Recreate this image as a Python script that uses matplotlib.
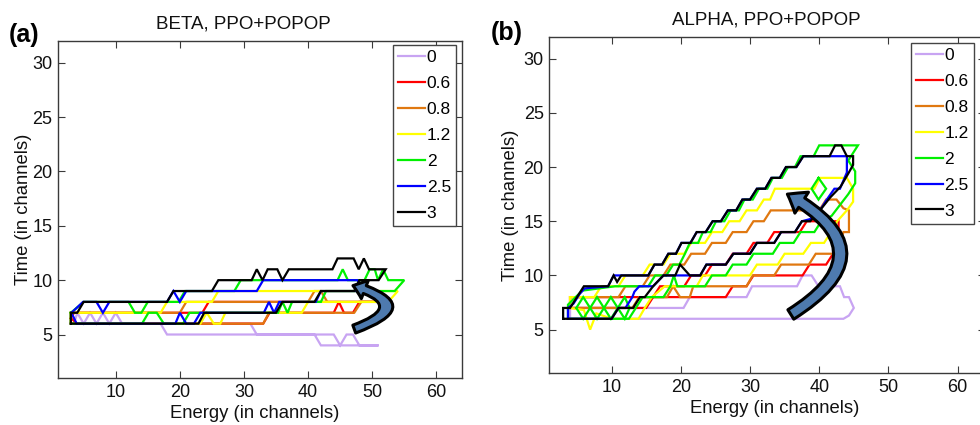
import matplotlib
matplotlib.use("Agg")
import matplotlib.pyplot as plt
from matplotlib.patches import FancyArrowPatch
from matplotlib.lines import Line2D

plt.rcParams['font.family'] = ['Liberation Sans', 'DejaVu Sans']

# ---------------- data ----------------
LEVELS = ['0', '0.6', '0.8', '1.2', '2', '2.5', '3']
COLORS = ['#C8A4F2', '#FF0000', '#E07810', '#FFFF00', '#00F000', '#0000FF', '#000000']
XTICKS = [10, 20, 30, 40, 50, 60]
YTICKS = [5, 10, 15, 20, 25, 30]
XLIM = (1, 64)
YLIM = (1, 32)
TITLES = ['BETA, PPO+POPOP', 'ALPHA, PPO+POPOP']
PANEL_TAGS = ['(a)', '(b)']
XLABEL = 'Energy (in channels)'
YLABEL = 'Time (in channels)'

# BETA contours (closed polylines, x = energy channel, y = time channel)
BETA_C0 = [(3.5, 6), (4, 7), (5, 6), (6, 7), (7, 6), (8, 7), (9, 6), (10, 7), (11, 6), (31, 6), (32, 5),
           (44, 5), (45, 4), (46, 5), (47, 5), (48, 4), (51, 4), (42, 4), (41, 5), (18, 5), (17, 6), (3.5, 6)]
BETA_C1 = [(3, 6.5), (3.5, 7), (23.5, 7), (24.5, 8), (52, 8), (48, 8), (47, 7), (45.6, 7), (44.8, 8),
           (44, 7), (34, 7), (33, 6), (4, 6), (3, 6.5)]
BETA_C2 = [(3, 7), (20, 7), (21, 8), (40, 8), (41, 9), (42, 9), (43, 8), (53, 8), (48.3, 8), (47.2, 7),
           (33.9, 7), (33, 6), (3, 6), (3, 7)]
BETA_C3 = [(3, 7), (17, 7), (18, 8), (25, 8), (26, 9), (54, 9), (52.5, 8), (40, 8), (39, 7), (27.1, 7),
           (26.3, 6), (25.3, 6), (24.2, 7), (23.2, 6), (3, 6), (3, 7)]
BETA_C4 = [(3, 7), (5, 8), (12, 8), (13, 7), (14, 7), (15, 8), (19.8, 8), (20.8, 9), (28.5, 9), (29.5, 10),
           (44.6, 10), (45.4, 11), (46.2, 10), (48.8, 10), (49.6, 11), (50.4, 11), (50.9, 10), (51.7, 11),
           (52.5, 10), (55, 10), (53.5, 9), (42.8, 9), (42, 8), (37.5, 8), (36.8, 7), (36, 8), (35.3, 7),
           (21.5, 7), (20.5, 6), (17.5, 6), (16.4, 7), (15.1, 7), (14.1, 6), (3, 6), (3, 7)]
BETA_C5 = [(3.1, 7), (4.9, 8), (7, 8), (8, 7), (9, 8), (18, 8), (19, 9), (20, 8), (21, 9), (32, 9), (33, 10),
           (47.7, 10), (48.7, 9), (42.8, 9), (42, 9), (41.2, 8), (35.5, 8), (34.7, 7), (33.9, 8), (33.1, 7),
           (23.2, 7), (22.2, 6), (21, 6), (20, 7), (19.3, 6), (3.9, 6), (3.1, 7)]
BETA_C6 = [(3, 6), (3, 7), (4, 7), (5, 8), (18, 8), (19, 9), (25, 9), (26, 10), (31.2, 10), (32, 11),
           (32.9, 10), (33.7, 11), (35.2, 11), (36, 10), (37, 11), (43.8, 11), (44.6, 12), (47.1, 12),
           (47.9, 11), (48.7, 12), (49.5, 11), (52.1, 11), (51, 10), (48, 10), (47.2, 9), (42, 9), (41, 8),
           (36, 8), (35, 7), (23.8, 7), (22.9, 6), (3, 6)]

# ALPHA contours
ALPHA_C0 = [(4, 6), (4, 7), (20.4, 7), (21.3, 8), (29.5, 8), (30.3, 9), (36.8, 9), (37.6, 10), (38.9, 10),
            (39.9, 9), (43, 9), (43.6, 8), (44.3, 8), (45, 7), (44.3, 6.3), (43.5, 6), (4, 6)]
ALPHA_C1 = [(4, 7), (15, 7), (16, 8), (26.5, 8), (27.5, 9), (29.5, 9), (30.5, 10), (37.6, 10), (38.6, 11),
            (41, 11), (42, 12), (42.8, 12.5), (42.8, 15), (38.2, 15), (37.2, 14), (33.5, 14), (32.5, 13),
            (30.5, 13), (29.5, 12), (27.5, 12), (26.5, 11), (24.5, 11), (23.5, 10), (21.5, 10), (20.5, 9),
            (17, 9), (16, 8), (4, 8), (4, 7)]
ALPHA_C2 = [(4, 7), (13, 7), (14, 8), (18, 8), (18.9, 9), (19.9, 8), (21.3, 8), (21.8, 9), (29.5, 9),
            (30.4, 10), (33.5, 10), (34.5, 11), (38.5, 11), (39.5, 12), (42.3, 12), (43, 13), (43.5, 14),
            (44.3, 14), (44.3, 16), (43.5, 16.2), (42.5, 17), (41, 17), (40, 16), (33, 16), (32, 15),
            (30.5, 15), (29.5, 14), (27.5, 14), (26.5, 13), (24.5, 13), (23.5, 12), (21.5, 12), (20.5, 11),
            (18.5, 11), (17.5, 10), (15.5, 10), (14.5, 9), (12, 9), (11, 8), (4, 8), (4, 7)]
ALPHA_C3 = [(4, 8), (7.5, 8), (8.5, 9), (11, 9), (12, 10), (14.5, 10), (15.5, 11), (17.5, 11), (18.5, 12),
            (20.5, 12), (21.5, 13), (23.5, 13), (24.5, 14), (26, 14), (27, 15), (28.5, 15), (29.5, 16),
            (31, 16), (32, 17), (32.9, 17), (33.6, 18), (39.3, 18), (40.1, 19), (44, 19), (44.9, 18),
            (44.9, 16.8), (44, 16), (42.6, 15), (41.7, 14), (40.7, 13), (38.8, 13), (37.7, 12), (35, 12),
            (34, 11), (31, 11), (30, 10), (23.2, 10), (22.3, 9), (17.7, 9), (15.8, 8), (14.8, 7), (13.9, 6),
            (10, 6), (7.8, 6.5), (6.9, 5), (6, 6.8), (4, 7), (4, 8)]
ALPHA_C4 = [(3.7, 6), (3.7, 7.3), (4.8, 8), (5.8, 8.6), (10.5, 9), (15.3, 9), (16.3, 10), (17.9, 10),
            (18.9, 11), (19.8, 11), (20.6, 12), (21.3, 13), (22.5, 13), (23.2, 14), (24.3, 14), (25.1, 15),
            (26.3, 15), (27.2, 16), (28.4, 16), (29.2, 17), (30.4, 17), (31.3, 18), (32.5, 18), (33.3, 19),
            (34.6, 19), (35.5, 20), (36.5, 20), (37.3, 21), (39.2, 21), (40, 22), (45.6, 22), (44.2, 20.6),
            (45.2, 19.6), (45.2, 18.5), (44.2, 17.5), (43, 16.5), (41.8, 15.5), (40.3, 15), (39.3, 14),
            (37.3, 14), (36.3, 13), (34.3, 13), (33.3, 12), (30.5, 12), (29.5, 11), (27.5, 11), (26.5, 10),
            (24.5, 10), (23.5, 9), (19.5, 9), (19, 10), (18.5, 9), (17.5, 8), (14.5, 8), (13.5, 7),
            (12.5, 6), (3.7, 6)]
ALPHA_C4_DIAMOND = [(39.9, 19), (41, 18), (39.9, 17), (38.9, 18), (39.9, 19)]
ALPHA_C4_ZIG_A = [(4.9, 7), (5.9, 8), (7.9, 6), (9.9, 8), (11.9, 6), (12.6, 7)]
ALPHA_C4_ZIG_B = [(4.9, 7), (5.9, 6), (7.9, 8), (9.9, 6), (11.9, 8), (12.6, 7)]
ALPHA_C5 = [(3.7, 6), (3.7, 7), (4.5, 7.4), (5.4, 8.3), (6.1, 8.8), (9.5, 9), (10.3, 10), (15.3, 10),
            (16.2, 11), (17.3, 11), (18.2, 12), (19.3, 12), (20.1, 13), (21.4, 13), (22.3, 14), (23.6, 14),
            (24.6, 15), (25.8, 15), (26.8, 16), (28, 16), (28.9, 17), (30, 17), (31, 18), (32.2, 18),
            (33.1, 19), (34.3, 19), (35.2, 20), (36.7, 20), (37.7, 21), (44, 21), (44, 19.5), (43, 18),
            (42.2, 18), (41.1, 17), (40.1, 16), (38.7, 15.2), (37.5, 15), (36.5, 14), (34.5, 14), (33.5, 13),
            (31, 13), (30, 12), (27.6, 12), (26.5, 11), (23.7, 11), (22.8, 10), (17.5, 10), (16, 9),
            (14, 9), (13.3, 8.5), (13, 8), (12, 7), (11, 7), (10, 6), (3.7, 6)]
ALPHA_C6 = [(3, 6), (3, 7), (4, 7), (5, 8), (6, 9), (9.5, 9), (10.3, 10), (10.8, 9.4), (11.4, 10),
            (15.3, 10), (16.2, 11), (17.3, 11), (18.2, 12), (19.3, 12), (20.1, 13), (21.4, 13), (22.3, 14),
            (23.6, 14), (24.6, 15), (25.8, 15), (26.8, 16), (28, 16), (28.9, 17), (30, 17), (31, 18),
            (32.2, 18), (33.1, 19), (34.3, 19), (35.2, 20), (36.7, 20), (37.7, 21), (41.5, 21), (42.3, 22),
            (43.2, 22), (44, 21), (44.9, 21), (44.9, 20.2), (44.2, 19.4), (43.1, 18.2), (41.6, 17.2),
            (40.1, 16), (38.7, 15), (37.5, 15), (36.5, 14), (34.5, 14), (33.5, 13), (31, 13), (30, 12),
            (27.6, 12), (26.5, 11), (23.7, 11), (22.8, 10), (21.3, 10), (19.9, 11), (19.2, 10), (17.5, 10),
            (16, 9), (14.8, 8), (14.1, 8), (13.1, 7), (11, 7), (10, 6), (3, 6)]

BETA_CONTOURS = [[BETA_C0], [BETA_C1], [BETA_C2], [BETA_C3], [BETA_C4], [BETA_C5], [BETA_C6]]
ALPHA_CONTOURS = [[ALPHA_C0], [ALPHA_C1], [ALPHA_C2], [ALPHA_C3],
                  [ALPHA_C4, ALPHA_C4_DIAMOND, ALPHA_C4_ZIG_A, ALPHA_C4_ZIG_B], [ALPHA_C5], [ALPHA_C6]]

# curved arrows (tail, head) in data coordinates
BETA_ARROW = ((47.2, 5.5), (47.0, 9.5))
ALPHA_ARROW = ((35.9, 6.4), (35.4, 17.5))

# ---------------- figure ----------------
fig = plt.figure(figsize=(9.8, 4.25), dpi=100)
ax_a = fig.add_axes([0.0592, 0.1106, 0.4122, 0.7929])
ax_b = fig.add_axes([0.5605, 0.1224, 0.4449, 0.7906])

spine_col = '#3a3a3a'


def style(ax, title, title_x, xlabel_x, ylabelpad):
    ax.set_xlim(*XLIM)
    ax.set_ylim(*YLIM)
    ax.set_xticks(XTICKS)
    ax.set_yticks(YTICKS)
    ax.tick_params(direction='in', top=True, right=True, length=5, width=0.8,
                   labelsize=13, color=spine_col, labelcolor='#111111', pad=4)
    for s in ax.spines.values():
        s.set_color(spine_col)
        s.set_linewidth(1.0)
    ax.set_title(title, fontsize=13.5, x=title_x, pad=9, color='#111111')
    ax.set_xlabel(XLABEL, fontsize=13.3, labelpad=3, color='#111111')
    ax.xaxis.label.set_x(xlabel_x)
    ax.set_ylabel(YLABEL, fontsize=13.3, labelpad=ylabelpad, color='#111111')


def draw(ax, contours, arrow, rad, tw, hw, hl, leg_anchor):
    for pieces, col in zip(contours, COLORS):
        for poly in pieces:
            xs = [p[0] for p in poly]
            ys = [p[1] for p in poly]
            ax.plot(xs, ys, color=col, lw=1.6, solid_joinstyle='miter', zorder=2)
    arr = FancyArrowPatch(arrow[0], arrow[1],
                          connectionstyle=f'arc3,rad={rad}',
                          arrowstyle=f'simple,tail_width={tw},head_width={hw},head_length={hl}',
                          mutation_scale=1, fc='#4E7AAE', ec='black', lw=2.2,
                          shrinkA=0, shrinkB=0, zorder=5)
    ax.add_patch(arr)
    handles = [Line2D([0], [0], color=c, lw=1.6) for c in COLORS]
    leg = ax.legend(handles, LEVELS, loc='upper left', bbox_to_anchor=leg_anchor,
                    borderaxespad=0, fontsize=12.5, handlelength=1.55, handletextpad=0.1,
                    labelspacing=0.62, borderpad=0.3, fancybox=False, framealpha=1,
                    edgecolor='#444444')
    leg.get_frame().set_linewidth(1.0)


style(ax_a, TITLES[0], 0.458, 0.488, 0)
style(ax_b, TITLES[1], 0.498, 0.516, 3)
draw(ax_a, BETA_CONTOURS, BETA_ARROW, 1.5, 6, 14, 9, (0.829, 0.988))
draw(ax_b, ALPHA_CONTOURS, ALPHA_ARROW, 0.85, 8, 18, 12, (0.829, 0.983))

fig.text(9 / 980, 1 - 35 / 425, PANEL_TAGS[0], fontsize=18, fontweight='bold', va='center', ha='left')
fig.text(491 / 980, 1 - 33 / 425, PANEL_TAGS[1], fontsize=18, fontweight='bold', va='center', ha='left')

fig.savefig('out.png', dpi=100)
